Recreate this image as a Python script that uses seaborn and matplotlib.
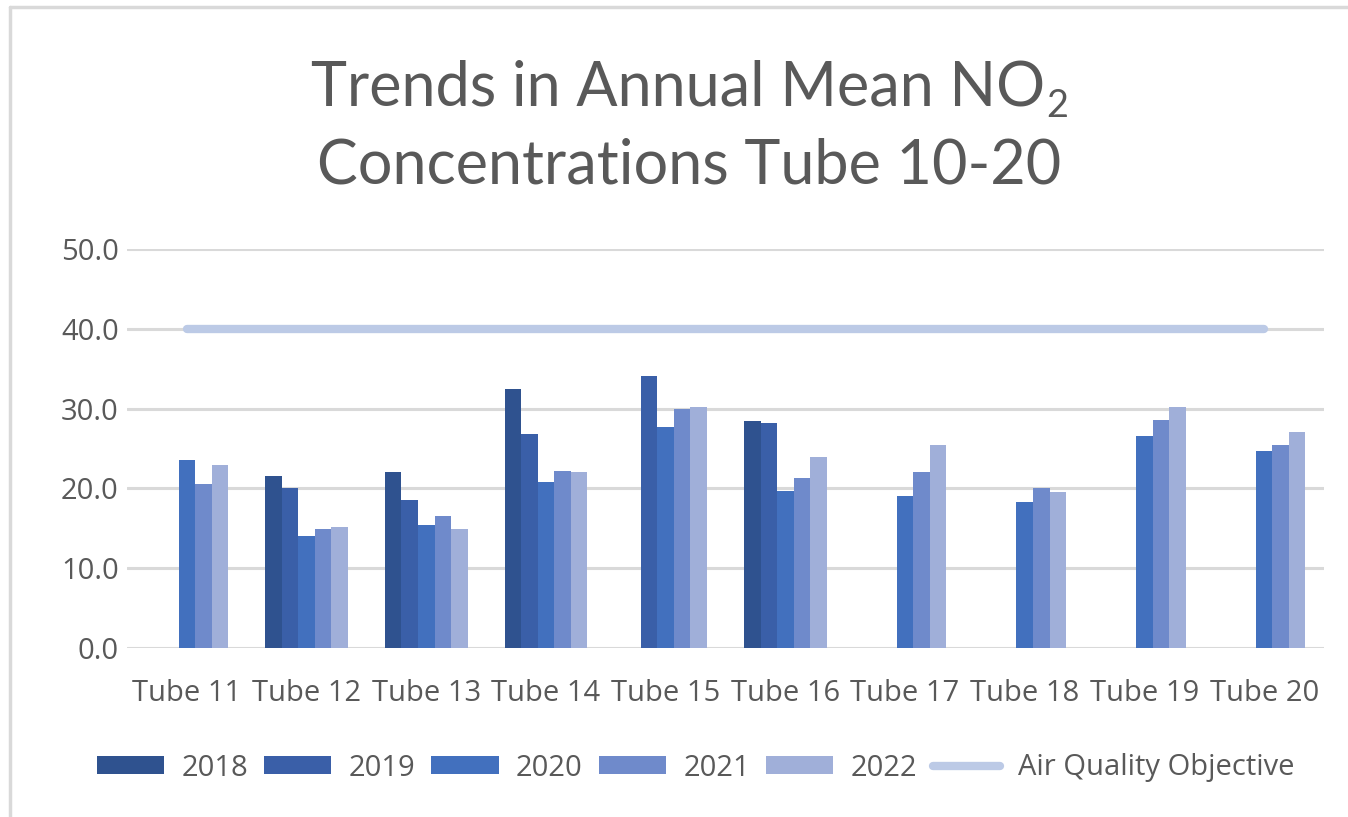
import numpy as np
import pandas as pd
import matplotlib
matplotlib.use("Agg")
import matplotlib.pyplot as plt
import seaborn as sns
from matplotlib.patches import Patch
from matplotlib.lines import Line2D

# ---- data ----
tubes = ["Tube 11", "Tube 12", "Tube 13", "Tube 14", "Tube 15",
         "Tube 16", "Tube 17", "Tube 18", "Tube 19", "Tube 20"]
years = ["2018", "2019", "2020", "2021", "2022"]
v2018 = [np.nan, 21.6, 22.0, 32.5, np.nan, 28.4, np.nan, np.nan, np.nan, np.nan]
v2019 = [np.nan, 20.0, 18.6, 26.8, 34.1, 28.2, np.nan, np.nan, np.nan, np.nan]
v2020 = [23.6, 14.0, 15.4, 20.8, 27.7, 19.7, 19.0, 18.3, 26.6, 24.7]
v2021 = [20.6, 14.9, 16.5, 22.2, 30.0, 21.3, 22.0, 20.0, 28.6, 25.4]
v2022 = [22.9, 15.2, 14.9, 22.0, 30.2, 23.9, 25.4, 19.5, 30.2, 27.1]
objective = [40.0] * len(tubes)
yticks = [0, 10, 20, 30, 40, 50]

colors = ["#2F528F", "#3A5FA8", "#4270BE", "#6F8ACB", "#A0AFD9"]
line_color = "#BCCAE6"
text_color = "#595959"
grid_color = "#D9D9D9"

rows = []
for yr, vals in zip(years, [v2018, v2019, v2020, v2021, v2022]):
    for t, v in zip(tubes, vals):
        rows.append({"Tube": t, "Year": yr, "Value": v})
df = pd.DataFrame(rows)

sns.set_theme(style="white")
plt.rcParams["font.family"] = ["Open Sans", "DejaVu Sans"]

W, H = 1348, 817
fig = plt.figure(figsize=(W / 100, H / 100), dpi=100)
ax = fig.add_axes([127 / W, 1 - 648 / H, (1324 - 127) / W, (648 - 249) / H])

for y in yticks:
    ax.axhline(y, color=grid_color, lw=2.2, zorder=0)

sns.barplot(data=df, x="Tube", y="Value", hue="Year", order=tubes,
            hue_order=years, palette=colors, width=0.69, dodge=True,
            errorbar=None, saturation=1, ax=ax, zorder=2, legend=False,
            edgecolor="none", linewidth=0)

ax.plot(np.arange(len(tubes)), objective, color=line_color, lw=6,
        solid_capstyle="round", zorder=3)

ax.set_xlim(-0.5, len(tubes) - 0.5)
ax.set_ylim(0, 50)
ax.set_yticks(yticks)
ax.set_yticklabels([f"{y:.1f}" for y in yticks])
ax.set_xlabel("")
ax.set_ylabel("")
for s in ax.spines.values():
    s.set_visible(False)
ax.tick_params(axis="both", length=0, labelsize=21, colors=text_color)
ax.tick_params(axis="y", pad=6)
ax.tick_params(axis="x", pad=22)

# ---- title ----
title_font = ["Lato", "DejaVu Sans"]
tsize = 44
cx = 689
renderer = fig.canvas.get_renderer()
t1 = fig.text(0, 1 - 105 / H, "Trends in Annual Mean NO", ha="left",
              va="baseline", fontsize=tsize, color=text_color, family=title_font)
t2 = fig.text(0, 1 - 117 / H, "2", ha="left", va="baseline",
              fontsize=tsize * 0.62, color=text_color, family=title_font)
w1 = t1.get_window_extent(renderer).width
w2 = t2.get_window_extent(renderer).width
x0 = (cx - (w1 + w2) / 2) / W
t1.set_x(x0)
t2.set_x(x0 + (w1 + 1) / W)
fig.text(cx / W, 1 - 183 / H, "Concentrations Tube 10-20", ha="center",
         va="baseline", fontsize=tsize, color=text_color, family=title_font)

# ---- legend ----
handles = [Patch(facecolor=c, edgecolor="none") for c in colors]
handles.append(Line2D([0], [0], color=line_color, lw=6, solid_capstyle="round"))
labels = years + ["Air Quality Objective"]
fig.legend(handles, labels, loc="center", bbox_to_anchor=(0.516, 1 - 768 / H),
           ncol=6, frameon=False, fontsize=21, handlelength=2.3,
           handleheight=0.6, handletextpad=0.6, columnspacing=0.55,
           labelcolor=text_color)

# chart border (top and left visible)
fig.add_artist(Line2D([10 / W, 1], [1 - 7 / H, 1 - 7 / H],
                      color=grid_color, lw=2.5, transform=fig.transFigure))
fig.add_artist(Line2D([10 / W, 10 / W], [0, 1 - 7 / H],
                      color=grid_color, lw=2.5, transform=fig.transFigure))

fig.savefig("out.png", dpi=100)
